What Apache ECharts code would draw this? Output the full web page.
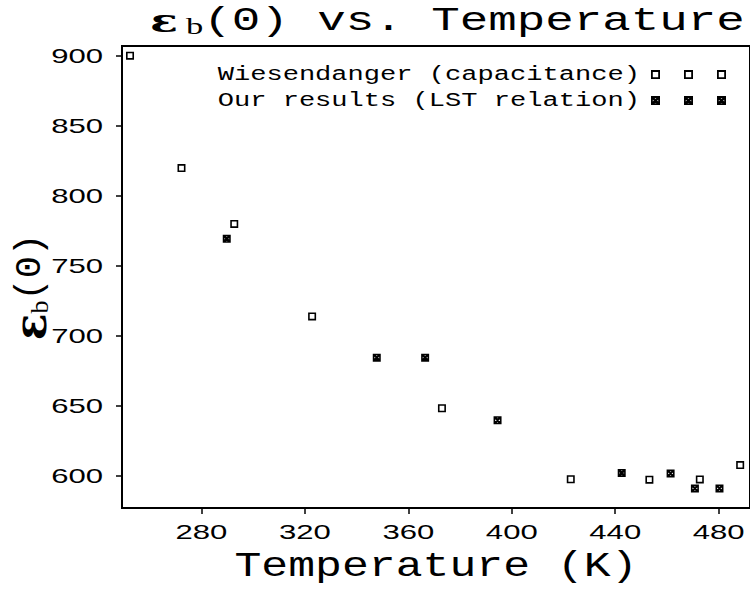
<!DOCTYPE html>
<html>
<head>
<meta charset="utf-8">
<script src="https://cdn.jsdelivr.net/npm/echarts@6/dist/echarts.min.js"></script>
<style>
  html, body { margin: 0; padding: 0; background: #fff; }
  #chart { width: 750px; height: 589px; }
</style>
</head>
<body>
<div id="chart"></div>
<script>
// ---- data ----
const xTicks = [280, 320, 360, 400, 440, 480];
const yTicks = [600, 650, 700, 750, 800, 850, 900];
const seriesNames = ['Wiesendanger (capacitance)', 'Our results (LST relation)'];
const wiesT = [252.4, 272.3, 292.7, 322.8, 373.0, 422.8, 453.2, 472.7, 488.3];
const wiesE = [900, 819.8, 779.9, 713.9, 648.4, 597.7, 597.4, 597.6, 607.8];
const oursT = [289.8, 347.8, 366.5, 394.5, 442.5, 461.4, 470.8, 480.3];
const oursE = [769.3, 684.5, 684.5, 639.9, 602.2, 601.9, 591.2, 591.2];
const xRange = [249.3, 492.1];
const yRange = [577.2, 906.9];
const xName = 'Temperature (K)';

// ---- marker shapes ----
function hollow(ox) {
  return 'M' + ox + ',0H' + (ox + 10) + 'V10H' + ox + 'Z M' + (ox + 2) + ',2V8H' + (ox + 8) + 'V2Z';
}
function xbox(ox) {
  const p = (x, y) => (ox + x) + ',' + y;
  return hollow(ox) +
    ' M' + p(2, 2) + 'L' + p(4, 2) + 'L' + p(8, 6) + 'L' + p(8, 8) + 'L' + p(6, 8) + 'L' + p(2, 4) + 'Z' +
    ' M' + p(8, 2) + 'L' + p(8, 4) + 'L' + p(4, 8) + 'L' + p(2, 8) + 'L' + p(2, 6) + 'L' + p(6, 2) + 'Z';
}
const OPEN = 'path://' + hollow(0);
const XBOX = 'path://' + xbox(0);
const OPEN3 = 'path://' + hollow(0) + ' ' + hollow(36.67) + ' ' + hollow(73.33);
const XBOX3 = 'path://' + xbox(0) + ' ' + xbox(36.67) + ' ' + xbox(73.33);

const pairs = (xs, ys) => xs.map((x, i) => [x, ys[i]]);
const MONO = 'Liberation Mono';
const SANS = 'Liberation Sans';

const chart = echarts.init(document.getElementById('chart'), null, { renderer: 'svg' });
chart.setOption({
  animation: false,
  backgroundColor: '#fff',
  graphic: [{
    type: 'text', x: 150, y: 21, scaleX: 1.44,
    style: {
      text: '{e|ε}{s|b}(0) vs. Temperature',
      fontFamily: MONO, fontSize: 33, fill: '#000',
      align: 'left', verticalAlign: 'middle',
      rich: {
        e: { fontFamily: 'DejaVu Serif', fontWeight: 'bold', fontSize: 32, width: 25, fill: '#000' },
        s: { fontFamily: 'Liberation Serif', fontSize: 24, verticalAlign: 'bottom', fill: '#000' }
      }
    }
  }],
  grid: { left: 121, right: -5, top: 46, bottom: 80, show: true, borderColor: '#000', borderWidth: 2, backgroundColor: 'transparent' },
  legend: {
    orient: 'vertical', right: 24, top: 63.6, align: 'right', padding: 0,
    itemWidth: 75, itemHeight: 9, itemGap: 4,
    selectedMode: false,
    textStyle: { fontFamily: MONO, fontSize: 21, lineHeight: 22, color: '#000', padding: [0, 6, 0, 0] },
    data: [
      { name: seriesNames[0], icon: OPEN3, itemStyle: { color: '#000', borderWidth: 0 } },
      { name: seriesNames[1], icon: XBOX3, itemStyle: { color: '#000', borderWidth: 0 } }
    ]
  },
  xAxis: {
    type: 'value', min: xRange[0], max: xRange[1],
    name: xName, nameLocation: 'middle', nameGap: 41, nameMoveOverlap: false,
    nameTextStyle: { fontFamily: MONO, fontSize: 35, color: '#000' },
    axisLine: { show: true, lineStyle: { color: '#000', width: 2 } },
    axisTick: { show: true, length: 6, inside: false, customValues: xTicks, lineStyle: { color: '#000', width: 1.5 } },
    axisLabel: { customValues: xTicks, margin: 13, fontFamily: SANS, fontSize: 21, color: '#000' },
    splitLine: { show: false }
  },
  yAxis: {
    type: 'value', min: yRange[0], max: yRange[1],
    name: '{e|ε}{s|b}(0)', nameLocation: 'middle', nameGap: 70, nameRotate: 90, nameMoveOverlap: false,
    nameTextStyle: {
      fontFamily: MONO, fontSize: 37, color: '#000', padding: [0, 20, 0, 0],
      rich: {
        e: { fontFamily: 'DejaVu Serif', fontWeight: 'bold', fontSize: 44, color: '#000' },
        s: { fontFamily: 'Liberation Serif', fontSize: 26, color: '#000', verticalAlign: 'bottom' }
      }
    },
    axisLine: { show: true, lineStyle: { color: '#000', width: 2 } },
    axisTick: { show: true, length: 6, inside: false, customValues: yTicks, lineStyle: { color: '#000', width: 1.5 } },
    axisLabel: { customValues: yTicks, margin: 19, fontFamily: SANS, fontSize: 21, color: '#000' },
    splitLine: { show: false }
  },
  series: [
    {
      name: seriesNames[0], type: 'scatter', data: pairs(wiesT, wiesE),
      symbol: OPEN, symbolSize: 8, itemStyle: { color: '#000', borderWidth: 0, opacity: 1 }
    },
    {
      name: seriesNames[1], type: 'scatter', data: pairs(oursT, oursE),
      symbol: XBOX, symbolSize: 8, itemStyle: { color: '#000', borderWidth: 0, opacity: 1 }
    }
  ]
});

// horizontal stretch of the wide typewriter-style labels in the reference
function stretchTexts() {
  document.querySelectorAll('#chart svg text').forEach(t => {
    if (t.getAttribute('data-st')) return;
    const s = t.textContent;
    let k = 0;
    if (/^\d+$/.test(s)) k = 1.48;
    else if (seriesNames.indexOf(s) >= 0) k = 1.29;
    else if (s === xName) k = 1.28;
    if (!k) return;
    const x = parseFloat(t.getAttribute('x') || 0);
    const y = parseFloat(t.getAttribute('y') || 0);
    const tr = t.getAttribute('transform') || '';
    t.setAttribute('transform', tr + ' translate(' + x + ' ' + y + ') scale(' + k + ' 1) translate(' + (-x) + ' ' + (-y) + ')');
    t.setAttribute('data-st', '1');
  });
}
stretchTexts();
chart.on('finished', stretchTexts);
requestAnimationFrame(stretchTexts);
</script>
</body>
</html>
